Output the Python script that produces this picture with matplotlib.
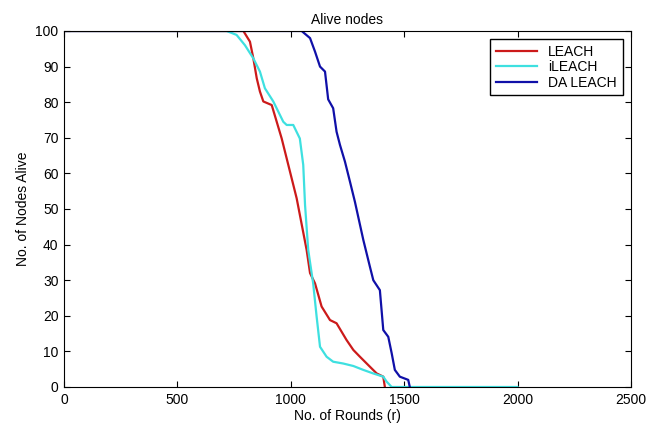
import matplotlib
matplotlib.use("Agg")
import matplotlib.pyplot as plt

# Rounds / alive nodes
leach_r = [0, 791, 820, 835, 850, 864, 879, 916, 938, 960, 982, 1004, 1026, 1070, 1085, 1107, 1136,
           1173, 1202, 1246, 1276, 1305, 1349, 1379, 1408, 1415]
leach_n = [100, 100, 97, 92.3, 86.7, 83, 80.2, 79.2, 74.5, 69.8, 64.2, 58.6, 53, 38.5, 32, 29.1, 22.6,
           18.8, 17.9, 13.2, 10.4, 8.5, 5.7, 3.8, 2.9, 0]

ileach_r = [0, 717, 761, 798, 835, 864, 886, 923, 967, 982, 1011, 1040, 1055, 1063, 1077, 1099, 1114,
            1129, 1158, 1187, 1231, 1276, 1320, 1364, 1408, 1423, 1445, 2000]
ileach_n = [100, 100, 98.9, 96, 92.3, 88.6, 83.9, 80.2, 74.5, 73.6, 73.6, 69.8, 62.4, 51.1, 38.5, 29, 19.8,
            11.3, 8.5, 7.1, 6.6, 5.9, 4.8, 3.8, 2.9, 1.5, 0, 0]

daleach_r = [0, 1048, 1085, 1107, 1129, 1151, 1165, 1187, 1202, 1217, 1239, 1261, 1283, 1320, 1349, 1364,
             1393, 1408, 1430, 1445, 1459, 1481, 1518, 1525]
daleach_n = [100, 100, 98, 94.2, 90, 88.6, 80.8, 78.3, 71.7, 68, 63.3, 57.7, 52, 41.3, 33.8, 30,
             27.2, 16, 14.1, 9.5, 4.8, 2.9, 2, 0]

plt.rcParams['font.family'] = ['Liberation Sans', 'DejaVu Sans']

fig = plt.figure(figsize=(6.62, 4.28), dpi=100)
ax = fig.add_axes([0.0967, 0.0958, 0.8563, 0.8318])

ax.plot(leach_r, leach_n, color="#cc1a1a", lw=1.6, label="LEACH")
ax.plot(ileach_r, ileach_n, color="#3ee0e0", lw=1.6, label="iLEACH")
ax.plot(daleach_r, daleach_n, color="#1010a8", lw=1.6, label="DA LEACH")

ax.set_xlim(0, 2500)
ax.set_ylim(0, 100)
ax.set_xticks(range(0, 2501, 500))
ax.set_yticks(range(0, 101, 10))
ax.tick_params(direction="in", top=True, right=True, labelsize=10, length=4, pad=4)
ax.set_title("Alive nodes", fontsize=10, pad=5)
ax.set_xlabel("No. of Rounds (r)", fontsize=10, labelpad=2)
ax.set_ylabel("No. of Nodes Alive", fontsize=10)

ax.legend(loc="upper right", fontsize=10, fancybox=False, edgecolor="black",
          framealpha=1, handlelength=3, borderaxespad=0.6, labelspacing=0.1)

fig.savefig("out.png", dpi=100)
